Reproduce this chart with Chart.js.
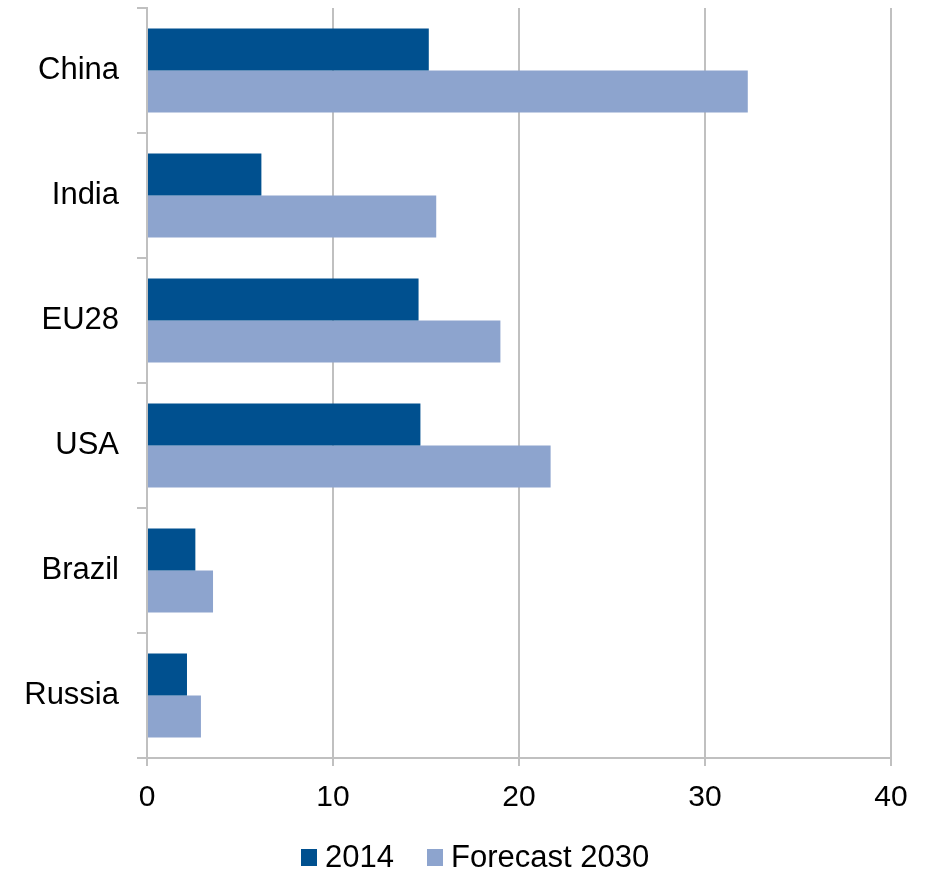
<!DOCTYPE html>
<html>
<head>
<meta charset="utf-8">
<script src="https://cdn.jsdelivr.net/npm/chart.js@4"></script>
<style>
  html, body { margin: 0; padding: 0; background: #fff; }
  #wrap { position: relative; width: 934px; height: 873px; }
  #legend { position: absolute; left: 0; top: 839px; width: 934px; height: 36px;
    font-family: "Liberation Sans", Arial, sans-serif; font-size: 31px; color: #000; }
  .item { display: flex; align-items: center; position: absolute; top: 0; height: 36px; }
  .sw { width: 16px; height: 17px; margin-right: 8px; }
</style>
</head>
<body>
<div id="wrap">
  <canvas id="c" width="934" height="873"></canvas>
  <div id="legend"></div>
</div>
<script>
const categories = ["China", "India", "EU28", "USA", "Brazil", "Russia"];
const values2014 = [15.15, 6.15, 14.6, 14.7, 2.6, 2.15];
const valuesForecast2030 = [32.3, 15.55, 19.0, 21.7, 3.55, 2.9];
const seriesNames = ["2014", "Forecast 2030"];
const seriesColors = ["#00508F", "#8DA4CE"];
const xTicks = [0, 10, 20, 30, 40];

const FONT = "'Liberation Sans', Arial, sans-serif";
const GRID = "#c0c0c0";

new Chart(document.getElementById("c"), {
  type: "bar",
  data: {
    labels: categories,
    datasets: [
      { label: seriesNames[0], data: values2014, backgroundColor: seriesColors[0],
        categoryPercentage: 0.672, barPercentage: 1.0 },
      { label: seriesNames[1], data: valuesForecast2030, backgroundColor: seriesColors[1],
        categoryPercentage: 0.672, barPercentage: 1.0 }
    ]
  },
  options: {
    indexAxis: "y",
    responsive: false,
    animation: false,
    devicePixelRatio: 1,
    layout: { padding: { top: 8, right: 43, left: 0, bottom: 0 } },
    plugins: { legend: { display: false }, tooltip: { enabled: false } },
    scales: {
      x: {
        min: xTicks[0], max: xTicks[xTicks.length - 1],
        afterBuildTicks: (s) => { s.ticks = xTicks.map(v => ({ value: v })); },
        afterFit: (s) => { s.height = 115; s.paddingLeft = 0; s.paddingRight = 0; },
        grid: { color: GRID, lineWidth: 2, tickLength: 8, drawTicks: true },
        border: { color: GRID, width: 2 },
        ticks: { color: "#000", font: { family: FONT, size: 30 }, padding: 14, maxRotation: 0 }
      },
      y: {
        afterFit: (s) => { s.width = 147; s.paddingTop = 0; s.paddingBottom = 0; },
        grid: { color: GRID, lineWidth: 2, tickLength: 10, drawOnChartArea: false, drawTicks: true, offset: true },
        border: { color: GRID, width: 2 },
        ticks: { color: "#000", font: { family: FONT, size: 31 }, padding: 18 }
      }
    }
  }
});

const legend = document.getElementById("legend");
const legendX = [301, 427];
seriesNames.forEach((n, i) => {
  const it = document.createElement("div");
  it.className = "item";
  it.style.left = legendX[i] + "px";
  const sw = document.createElement("span");
  sw.className = "sw";
  sw.style.background = seriesColors[i];
  const t = document.createElement("span");
  t.textContent = n;
  it.appendChild(sw); it.appendChild(t);
  legend.appendChild(it);
});
</script>
</body>
</html>
